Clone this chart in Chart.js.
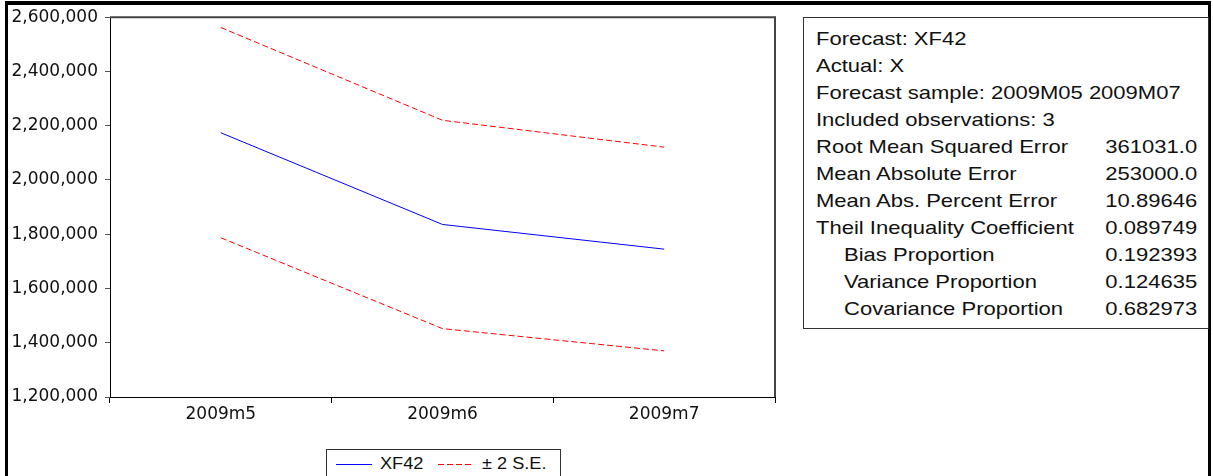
<!DOCTYPE html>
<html>
<head>
<meta charset="utf-8">
<script src="https://cdn.jsdelivr.net/npm/chart.js@4.4.1/dist/chart.umd.min.js"></script>
<style>
  body { margin: 0; background: #fff; width: 1213px; height: 476px; overflow: hidden; position: relative; font-family: "Liberation Sans", Arial, sans-serif; color: #111; }
  #ramka { position: absolute; left: 5px; top: 1px; width: 1200px; height: 600px; border-left: 3px solid #000; border-top: 4px solid #000; border-right: 3px solid #000; }
  #wykres { position: absolute; left: 0; top: 0; }
  #statystyki { position: absolute; left: 803px; top: 17px; width: 404px; height: 310px; border: 1px solid #333; }
  .wiersz { position: absolute; left: 12px; right: 11px; height: 27px; font-size: 18.5px; line-height: 27px; white-space: nowrap; }
  .wiersz .opis { position: absolute; left: 0; transform: scaleX(1.19); transform-origin: left center; }
  .wiersz .wartosc { position: absolute; right: 0; transform: scaleX(1.19); transform-origin: right center; }
  .wiersz.wciecie .opis { left: 28px; }
  #legenda { position: absolute; left: 326px; top: 449px; width: 233px; height: 40px; border: 1px solid #333; font-size: 16.5px; }
  #legenda .probka { position: absolute; top: 14px; width: 36px; height: 1px; }
  #legenda .tekst { position: absolute; top: 3px; line-height: 20px; transform: scaleX(1.1); transform-origin: left center; white-space: nowrap; }
</style>
</head>
<body>
<div id="ramka"></div>
<canvas id="wykres" width="800" height="430"></canvas>
<div id="statystyki"></div>
<div id="legenda">
  <div class="probka" style="left:9px; background:#0000ff;"></div>
  <div class="probka" style="left:111px; width:33px; background:repeating-linear-gradient(to right, #ff0000 0 6px, transparent 6px 9px);"></div>
  <div class="tekst" style="left:53px;">XF42</div>
  <div class="tekst" style="left:155px;">± 2 S.E.</div>
</div>
<script>
const okresy = ['2009m5', '2009m6', '2009m7'];
const prognozaXF42 = [2174000, 1836000, 1745000];
const gornaGranica = [2562000, 2220000, 2121000];
const dolnaGranica = [1787000, 1452000, 1370000];

const etykietyStatystyk = [
    'Forecast: XF42',
    'Actual: X',
    'Forecast sample: 2009M05 2009M07',
    'Included observations: 3',
    'Root Mean Squared Error',
    'Mean Absolute Error',
    'Mean Abs. Percent Error',
    'Theil Inequality Coefficient',
    'Bias Proportion',
    'Variance Proportion',
    'Covariance Proportion'
];
const wartosciStatystyk = ['', '', '', '', '361031.0', '253000.0', '10.89646', '0.089749', '0.192393', '0.124635', '0.682973'];

const kontenerStatystyk = document.getElementById('statystyki');
etykietyStatystyk.forEach((opis, i) => {
    const wiersz = document.createElement('div');
    wiersz.className = 'wiersz' + (i >= 8 ? ' wciecie' : '');
    wiersz.style.top = (7 + i * 27) + 'px';
    wiersz.innerHTML = `<span class="opis">${opis}</span><span class="wartosc">${wartosciStatystyk[i]}</span>`;
    kontenerStatystyk.appendChild(wiersz);
});

// gorna i prawa krawedz obszaru wykresu
const ramkaObszaru = {
    id: 'ramkaObszaru',
    afterDraw(chart) {
        const { ctx, chartArea } = chart;
        ctx.save();
        ctx.strokeStyle = '#444';
        ctx.lineWidth = 2;
        ctx.beginPath();
        ctx.moveTo(chartArea.left, chartArea.top);
        ctx.lineTo(chartArea.right, chartArea.top);
        ctx.lineTo(chartArea.right, chartArea.bottom);
        ctx.stroke();
        ctx.restore();
    }
};

const czcionkaOsi = { family: '"DejaVu Sans", sans-serif', size: 17 };

new Chart(document.getElementById('wykres').getContext('2d'), {
    type: 'line',
    data: {
        labels: okresy,
        datasets: [
            { label: 'XF42', data: prognozaXF42, borderColor: '#0000ff', borderWidth: 1, pointRadius: 0, tension: 0 },
            { label: '± 2 S.E.', data: gornaGranica, borderColor: '#ff0000', borderWidth: 1, borderDash: [6, 3], pointRadius: 0, tension: 0 },
            { label: '± 2 S.E. (dolna)', data: dolnaGranica, borderColor: '#ff0000', borderWidth: 1, borderDash: [6, 3], pointRadius: 0, tension: 0 }
        ]
    },
    options: {
        responsive: false,
        animation: false,
        layout: { padding: { top: 17, right: 25, left: 0, bottom: 0 } },
        plugins: { legend: { display: false }, tooltip: { enabled: false } },
        scales: {
            x: {
                offset: true,
                grid: { offset: true, drawOnChartArea: false, drawTicks: true, tickLength: 6, color: '#000', lineWidth: 1 },
                border: { display: true, color: '#000', width: 1 },
                ticks: { font: czcionkaOsi, color: '#111', padding: 1, maxRotation: 0 },
                afterFit(skala) { skala.height = 33; }
            },
            y: {
                min: 1200000,
                max: 2600000,
                grid: { drawOnChartArea: false, drawTicks: true, tickLength: 5, color: '#555', lineWidth: 1 },
                border: { display: true, color: '#000', width: 1 },
                ticks: {
                    stepSize: 200000,
                    font: czcionkaOsi,
                    color: '#111',
                    padding: 7,
                    callback: (wartosc) => wartosc.toLocaleString('en-US')
                },
                afterFit(skala) { skala.width = 110; }
            }
        }
    },
    plugins: [ramkaObszaru]
});
</script>
</body>
</html>
